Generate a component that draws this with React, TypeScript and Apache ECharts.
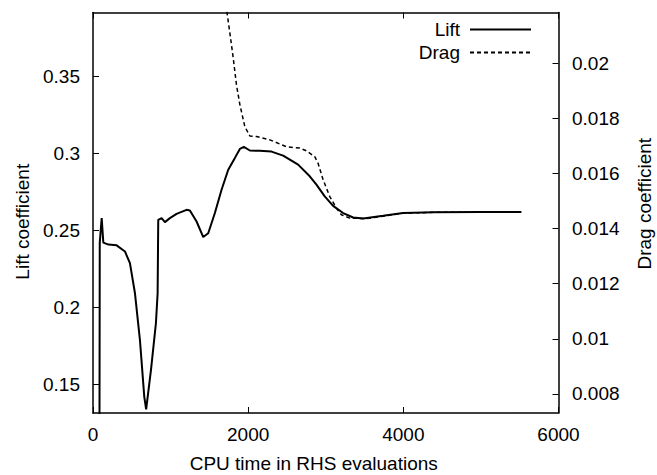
import React, { useEffect, useRef } from "react";
import * as echarts from "echarts";

// CPU time (RHS evaluations) and lift coefficient
const liftX = [80, 87, 112, 133, 200, 305, 412, 476, 541, 605, 661, 685, 747, 811, 833, 841, 884, 927, 991, 1077, 1206, 1249, 1335, 1421, 1485, 1571, 1657, 1743, 1829, 1893, 1944, 2022, 2150, 2301, 2451, 2644, 2794, 2880, 2987, 3095, 3224, 3353, 3482, 3740, 3997, 4384, 5000, 5520];
const liftY = [0.0, 0.242, 0.258, 0.2421, 0.2408, 0.2403, 0.2363, 0.2287, 0.2091, 0.1787, 0.1417, 0.1335, 0.1591, 0.1896, 0.2091, 0.2569, 0.258, 0.2554, 0.258, 0.2608, 0.2634, 0.263, 0.2558, 0.2457, 0.2482, 0.2613, 0.2765, 0.2895, 0.2972, 0.303, 0.3043, 0.302, 0.3018, 0.3013, 0.2987, 0.2928, 0.2852, 0.2798, 0.2722, 0.266, 0.2613, 0.2584, 0.2578, 0.2595, 0.2613, 0.2619, 0.262, 0.262];

// CPU time (RHS evaluations) and drag coefficient
const dragX = [1650, 1729, 1764, 1807, 1850, 1893, 1957, 2022, 2108, 2279, 2494, 2665, 2751, 2858, 2901, 2966, 3052, 3138, 3202, 3309, 3524, 3997, 4384, 5000, 5520];
const dragY = [0.03, 0.0218, 0.0211, 0.0202, 0.0192, 0.0185, 0.0177, 0.01736, 0.01734, 0.01722, 0.01697, 0.01692, 0.01682, 0.01661, 0.01637, 0.01577, 0.01516, 0.01474, 0.0145, 0.01438, 0.01436, 0.01456, 0.01459, 0.0146, 0.0146];

const seriesNames = ["Lift", "Drag"];
const xAxisName = "CPU time in RHS evaluations";
const leftAxisName = "Lift coefficient";
const rightAxisName = "Drag coefficient";

const FONT = "Liberation Sans";
const FS = 19;

const fmt = (v: number) => String(parseFloat(Number(v).toFixed(6)));

export default function App() {
  const ref = useRef<HTMLDivElement>(null);
  useEffect(() => {
    if (!ref.current) return;
    const chart = echarts.init(ref.current, null, { renderer: "svg" });
    const axisLine = { show: true, onZero: false, lineStyle: { color: "#000", width: 1.5 } };
    const axisTick = { show: true, inside: true, length: 6, lineStyle: { color: "#000", width: 1 } };
    const labelStyle = { color: "#000", fontFamily: FONT, fontSize: FS };
    chart.setOption({
      animation: false,
      backgroundColor: "#fff",
      textStyle: { fontFamily: FONT },
      grid: { left: 93, right: 98.5, top: 12.5, bottom: 62, containLabel: false, outerBoundsMode: "none" },
      legend: {
        data: seriesNames,
        orient: "vertical",
        align: "right",
        right: 125,
        top: 20,
        padding: 0,
        itemGap: 4,
        itemWidth: 61,
        itemHeight: 14,
        itemStyle: { opacity: 0 },
        textStyle: { color: "#000", fontFamily: FONT, fontSize: FS, padding: [0, 5, 0, 0] },
      },
      xAxis: [
        {
          type: "value",
          position: "bottom",
          min: 0,
          max: 6000,
          interval: 2000,
          axisLine,
          axisTick,
          splitLine: { show: false },
          axisLabel: { ...labelStyle, margin: 12, showMinLabel: true, showMaxLabel: true, formatter: fmt },
          name: xAxisName,
          nameLocation: "middle",
          nameGap: 41,
          nameTextStyle: { ...labelStyle, padding: [0, 24, 0, 0] },
        },
        {
          type: "value",
          position: "top",
          min: 0,
          max: 6000,
          interval: 2000,
          axisLine,
          axisTick,
          splitLine: { show: false },
          axisLabel: { show: false },
        },
      ],
      yAxis: [
        {
          type: "value",
          position: "left",
          min: 0.1312,
          max: 0.3918,
          minInterval: 0.05,
          maxInterval: 0.05,
          splitNumber: 5,
          axisLine,
          axisTick,
          splitLine: { show: false },
          axisLabel: { ...labelStyle, margin: 13, showMinLabel: false, showMaxLabel: false, formatter: fmt },
          name: leftAxisName,
          nameLocation: "middle",
          nameGap: 59,
          nameTextStyle: { ...labelStyle, padding: [0, 18, 0, 0] },
        },
        {
          type: "value",
          position: "right",
          min: 0.00731,
          max: 0.02184,
          minInterval: 0.002,
          maxInterval: 0.002,
          splitNumber: 7,
          axisLine,
          axisTick,
          splitLine: { show: false },
          axisLabel: { ...labelStyle, margin: 13.5, showMinLabel: false, showMaxLabel: false, formatter: fmt },
          name: rightAxisName,
          nameLocation: "middle",
          nameGap: 76,
          nameTextStyle: { ...labelStyle, padding: [0, 0, 0, 18] },
        },
      ],
      series: [
        {
          name: seriesNames[0],
          type: "line",
          xAxisIndex: 0,
          yAxisIndex: 0,
          data: liftX.map((x, i) => [x, liftY[i]]),
          symbol: "none",
          clip: true,
          lineStyle: { color: "#000", width: 2, type: "solid" },
          itemStyle: { color: "#000" },
        },
        {
          name: seriesNames[1],
          type: "line",
          xAxisIndex: 0,
          yAxisIndex: 1,
          data: dragX.map((x, i) => [x, dragY[i]]),
          symbol: "none",
          clip: true,
          lineStyle: { color: "#000", width: 1.5, type: [4, 3] },
          itemStyle: { color: "#000" },
        },
      ],
    });
    return () => chart.dispose();
  }, []);
  return <div ref={ref} style={{ position: "fixed", left: 0, top: 0, width: 657, height: 475 }} />;
}
